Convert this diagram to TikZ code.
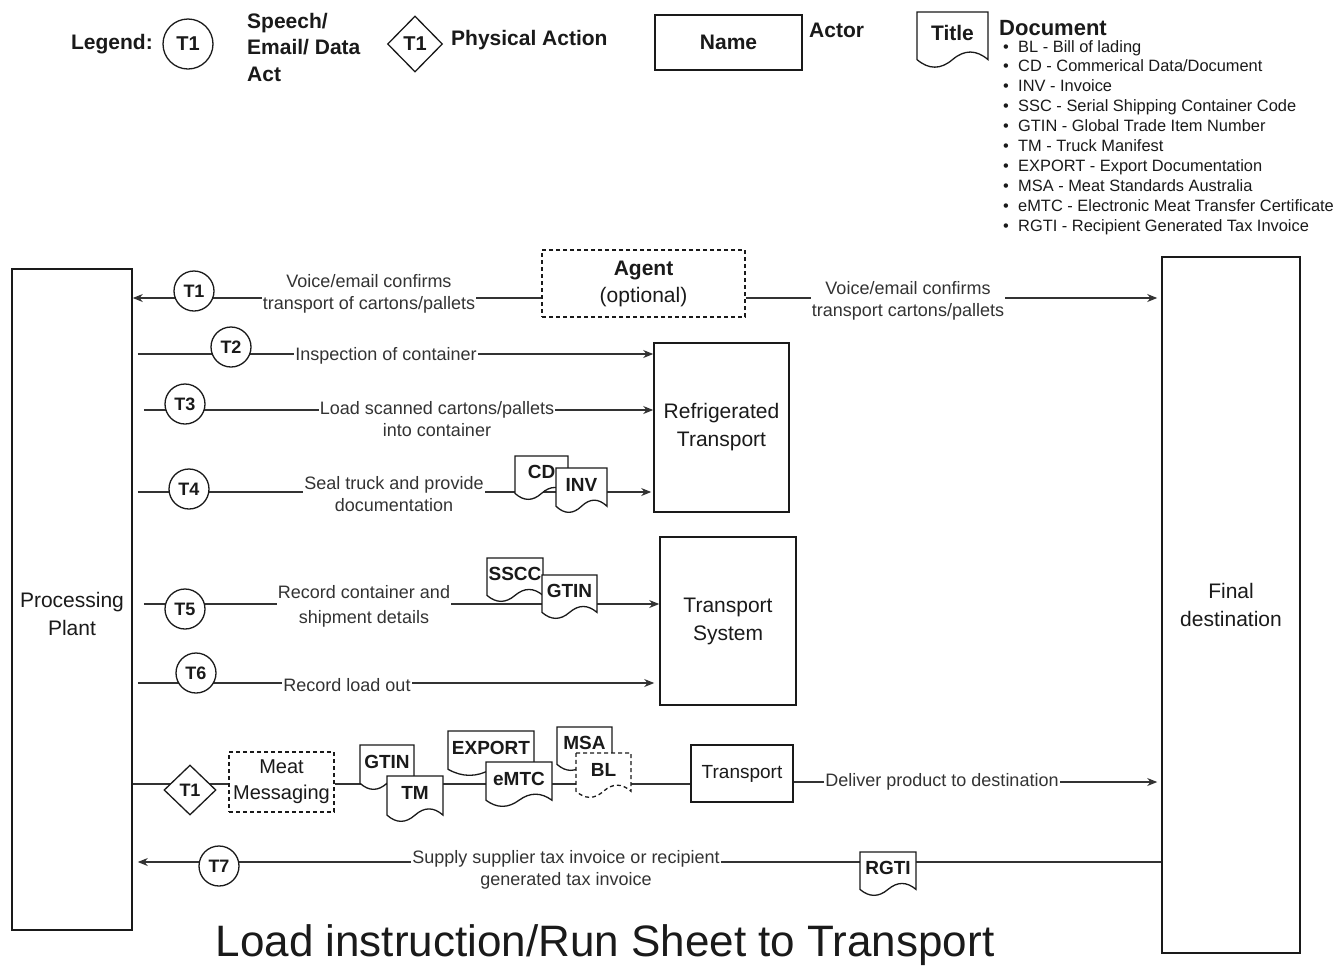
\documentclass[tikz,border=0pt]{standalone}
\usepackage{fontspec}
\setmainfont{Liberation Sans}
\usetikzlibrary{shapes.geometric,arrows.meta,calc}
\definecolor{ink}{HTML}{1A1A1A}
\definecolor{lbl}{HTML}{333333}
\definecolor{edgec}{HTML}{333333}
\tikzset{
 actor/.style={draw=ink, line width=1.6pt, fill=white, rectangle, inner sep=0pt, align=center, text=ink, font=\fontsize{21}{28}\selectfont},
 dashactor/.style={actor, line width=1.3pt, dash pattern=on 4pt off 3pt},
 conn/.style={draw=edgec, line width=1.2pt},
 arr/.style={conn, -{Stealth[length=10pt,width=8pt]}},
 tcirc/.style={circle, draw=ink, fill=white, line width=1.3pt, minimum size=40pt, inner sep=0pt, text=ink, font=\fontsize{18}{20}\selectfont\bfseries},
 tdiam/.style={diamond, draw=ink, fill=white, line width=1.3pt, minimum width=52pt, minimum height=50pt, inner sep=0pt, text=ink, font=\fontsize{18}{20}\selectfont\bfseries},
 elabel/.style={fill=white, inner sep=1pt, align=center, text=lbl, font=\fontsize{18}{22}\selectfont},
 docline/.style={draw=ink, line width=1.3pt, fill=white},
 doctext/.style={inner sep=0pt, text=ink, font=\fontsize{19}{22}\selectfont\bfseries},
 legtext/.style={inner sep=0pt, text=ink, font=\fontsize{21}{26.5}\selectfont\bfseries, align=left},
 actortext/.style={inner sep=0pt, align=center, text=ink, font=\fontsize{21}{28}\selectfont},
}
% document shape: #1 style, #2 name, #3 left, #4 top, #5 width, #6 height, #7 text
\newcommand{\docshape}[7][]{%
  \pgfmathsetmacro{\dL}{#3}\pgfmathsetmacro{\dR}{#3+#5}%
  \pgfmathsetmacro{\dC}{#3+#5/2}%
  \pgfmathsetmacro{\dT}{#4}\pgfmathsetmacro{\dB}{#4+#6}%
  \pgfmathsetmacro{\dY}{0.3*#6}%
  \pgfmathsetmacro{\dE}{\dB-\dY/2}%
  \pgfmathsetmacro{\dU}{\dE-0.6*\dY}%
  \pgfmathsetmacro{\dD}{\dE+0.6*\dY}%
  \pgfmathsetmacro{\dxa}{\dC+#5/3}\pgfmathsetmacro{\dxb}{\dC+#5/6}%
  \pgfmathsetmacro{\dxc}{\dC-#5/6}\pgfmathsetmacro{\dxd}{\dC-#5/3}%
  \draw[docline,#1] (\dL,\dT) -- (\dR,\dT) -- (\dR,\dE) .. controls (\dxa,\dU) and (\dxb,\dU) .. (\dC,\dE) .. controls (\dxc,\dD) and (\dxd,\dD) .. (\dL,\dE) -- cycle;
  \pgfmathsetmacro{\dM}{#4+0.37*#6}%
  \node[doctext] (#2) at (\dC,\dM) {#7};%
}
\begin{document}
\begin{tikzpicture}[x=1pt,y=-1pt]
\useasboundingbox[fill=white] (0,0) rectangle (1340,970);

% ---------- Legend ----------
\node[legtext, anchor=east] (legend) at (153,44) {Legend:};
\node[tcirc, minimum size=50pt, font=\fontsize{20}{22}\selectfont\bfseries] (legc) at (188,44) {T1};
\node[legtext, anchor=west] (legspeech) at (247,47) {Speech/\\Email/ Data\\Act};
\node[tdiam, minimum width=55pt, minimum height=56pt, font=\fontsize{20}{22}\selectfont\bfseries] (legd) at (415,44) {T1};
\node[legtext, anchor=west] (legphys) at (451,40) {Physical Action};
\node[actor, minimum width=147pt, minimum height=55pt, font=\fontsize{21}{26}\selectfont\bfseries] (legname) at (728.5,42.5) {Name};
\node[legtext, anchor=west] (legactor) at (809,30) {Actor};
\docshape{legtitle}{917}{12}{71}{56}{\fontsize{21}{24}\selectfont Title}
\node[legtext, anchor=west, font=\fontsize{22}{26}\selectfont\bfseries] (legdoc) at (999,28) {Document};
\node[anchor=north west, inner sep=0pt, align=left, text=ink, font=\fontsize{16.4}{19.9}\selectfont] (doclist) at (1003,40) {%
\makebox[15pt][l]{\textbullet}BL - Bill of lading\\
\makebox[15pt][l]{\textbullet}CD - Commerical Data/Document\\
\makebox[15pt][l]{\textbullet}INV - Invoice\\
\makebox[15pt][l]{\textbullet}SSC - Serial Shipping Container Code\\
\makebox[15pt][l]{\textbullet}GTIN - Global Trade Item Number\\
\makebox[15pt][l]{\textbullet}TM - Truck Manifest\\
\makebox[15pt][l]{\textbullet}EXPORT - Export Documentation\\
\makebox[15pt][l]{\textbullet}MSA - Meat Standards Australia\\
\makebox[15pt][l]{\textbullet}eMTC - Electronic Meat Transfer Certificate\\
\makebox[15pt][l]{\textbullet}RGTI - Recipient Generated Tax Invoice};

% ---------- Actors ----------
\node[actor, minimum width=120pt, minimum height=661pt] (plant) at (72,599.5) {};
\node[actortext] (plantlbl) at ($(plant.center)+(0,14)$) {Processing\\Plant};
\node[actor, minimum width=138pt, minimum height=696pt] (final) at (1231,605) {Final\\destination};
\node[dashactor, minimum width=203pt, minimum height=67pt, font=\fontsize{21}{27}\selectfont] (agent) at (643.5,283.5) {\textbf{Agent}\\(optional)};
\node[actor, minimum width=135pt, minimum height=169pt] (reft) at (721.5,427.5) {Refrigerated\\Transport};
\node[actor, minimum width=136pt, minimum height=168pt] (tsys) at (728,621) {Transport\\System};
\node[dashactor, minimum width=105pt, minimum height=60pt, font=\fontsize{20}{26}\selectfont] (meat) at (281.5,782) {Meat\\Messaging};
\node[actor, minimum width=102pt, minimum height=57pt, font=\fontsize{19}{24}\selectfont] (transport) at (742,773.5) {Transport};

% ---------- Connectors ----------
\draw[arr] (agent.west |- 0,298) -- (plant.east |- 0,298);
\draw[arr] (agent.east |- 0,298) -- ($(final.west |- 0,298)+(-4,0)$);
\draw[arr] ($(plant.east |- 0,354)+(5,0)$) -- (reft.west |- 0,354);
\draw[arr] ($(plant.east |- 0,410)+(11,0)$) -- (reft.west |- 0,410);
\draw[arr] ($(plant.east |- 0,492)+(5,0)$) -- ($(reft.west |- 0,492)+(-2,0)$);
\draw[arr] ($(plant.east |- 0,604)+(11,0)$) -- (tsys.west |- 0,604);
\draw[arr] ($(plant.east |- 0,683)+(5,0)$) -- ($(tsys.west |- 0,683)+(-5,0)$);
\draw[conn] (plant.east |- 0,784) -- (meat.west |- 0,784);
\draw[conn] (meat.east |- 0,784) -- (transport.west |- 0,784);
\draw[arr] (transport.east |- 0,782) -- ($(final.west |- 0,782)+(-4,0)$);
\draw[arr] (final.west |- 0,862) -- ($(plant.east |- 0,862)+(5,0)$);

% ---------- Transaction markers ----------
\node[tcirc] (t1) at (194,291) {T1};
\node[tcirc] (t2) at (231,347) {T2};
\node[tcirc] (t3) at (185,404) {T3};
\node[tcirc] (t4) at (189,489) {T4};
\node[tcirc] (t5) at (185,609) {T5};
\node[tcirc] (t6) at (196,673) {T6};
\node[tcirc] (t7) at (219,866) {T7};
\node[tdiam] (t1d) at (190,790) {T1};

% ---------- Documents ----------
\docshape{cd}{515}{456}{53}{44}{CD}
\docshape{inv}{556}{468}{51}{45}{INV}
\docshape{sscc}{487}{558}{56}{44}{SSCC}
\docshape{gtina}{542}{575}{55}{44}{GTIN}
\docshape{gtinb}{360}{745}{54}{45}{GTIN}
\docshape{tm}{387}{776}{56}{46}{TM}
\docshape{export}{448}{731}{86}{45}{EXPORT}
\docshape{emtc}{486}{762}{66}{45}{eMTC}
\docshape{msa}{557}{727}{55}{44}{MSA}
\docshape[dash pattern=on 4pt off 3pt]{bl}{576}{753}{55}{45}{BL}
\docshape{rgti}{860}{852}{56}{44}{RGTI}

% ---------- Edge labels ----------
\node[elabel] (l1a) at (369,294) {Voice/email confirms\\transport of cartons/pallets};
\node[elabel] (l1b) at (908,301) {Voice/email confirms\\transport cartons/pallets};
\node[elabel] (l2) at (386,356) {Inspection of container};
\node[elabel] (l3) at (437,419) {Load scanned cartons/pallets\\into container};
\node[elabel] (l4) at (394,494) {Seal truck and provide\\documentation};
\node[elabel, font=\fontsize{18}{25}\selectfont] (l5) at (364,606) {Record container and\\shipment details};
\node[elabel] (l6) at (347,685) {Record load out};
\node[elabel] (l7) at (942,782) {Deliver product to destination};
\node[elabel] (l8) at (566,870) {Supply supplier tax invoice or recipient\\generated tax invoice};

% ---------- Title ----------
\node[inner sep=0pt, text=ink, font=\fontsize{44}{50}\selectfont] (title) at (605,945) {Load instruction/Run Sheet to Transport};
\end{tikzpicture}
\end{document}
